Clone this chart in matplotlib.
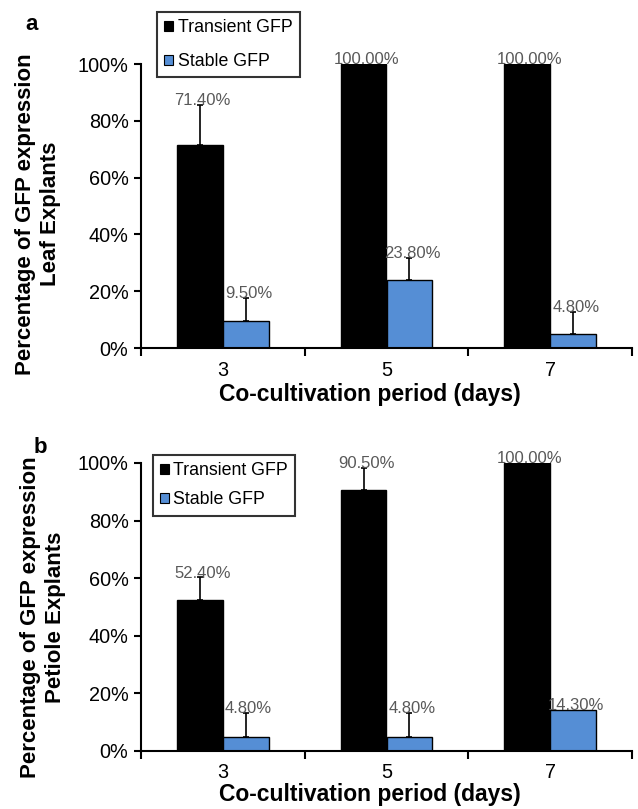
import matplotlib
matplotlib.use("Agg")
import matplotlib.pyplot as plt
from matplotlib.patches import Patch
import numpy as np

plt.rcParams['font.family'] = ['Liberation Sans', 'DejaVu Sans']

categories = ["3", "5", "7"]
series_names = ["Transient GFP", "Stable GFP"]

leaf_transient = [71.4, 100.0, 100.0]
leaf_transient_err = [14.2, 0.0, 0.0]
leaf_stable = [9.5, 23.8, 4.8]
leaf_stable_err = [8.1, 7.9, 7.9]

petiole_transient = [52.4, 90.5, 100.0]
petiole_transient_err = [8.0, 7.8, 0.0]
petiole_stable = [4.8, 4.8, 14.3]
petiole_stable_err = [8.4, 8.4, 0.0]

yticks = [0, 20, 40, 60, 80, 100]
ytick_labels = ["0%", "20%", "40%", "60%", "80%", "100%"]

xlabel = "Co-cultivation period (days)"
ylabel_a = "Percentage of GFP expression\nLeaf Explants"
ylabel_b = "Percentage of GFP expression\nPetiole Explants"

colors = ["#000000", "#558ED5"]
label_color = "#595959"

W, H = 638, 809
fig = plt.figure(figsize=(W / 100, H / 100), dpi=100)


def fx(px):
    return px / W


def fy(py):
    return 1 - py / H


def panel(rect, trans, trans_err, stab, stab_err, ylabel, letter, letter_xy,
          leg_anchor, leg_spacing, ylabel_xy, xlabel_y):
    ax = fig.add_axes(rect)
    x = np.arange(len(categories))
    w = 0.28
    for vals, errs, off, col in [(trans, trans_err, -w / 2, colors[0]),
                                 (stab, stab_err, w / 2, colors[1])]:
        ax.bar(x + off, vals, width=w, color=col, edgecolor="black", linewidth=1.0, zorder=2)
        ev = np.array(errs)
        mask = ev > 0
        ax.errorbar((x + off)[mask], np.array(vals)[mask],
                    yerr=[np.zeros(mask.sum()), ev[mask]], fmt="none",
                    ecolor="black", elinewidth=1.2, capsize=2.5, capthick=1.2, zorder=3)
        for xi, v, e in zip(x + off, vals, errs):
            ax.annotate(f"{v:.2f}%", (xi, v + e), xytext=(2, -2.5), textcoords="offset points",
                        ha="center", va="bottom", fontsize=12, color=label_color, zorder=4)
    ax.set_xlim(-0.5, 2.5)
    ax.set_ylim(0, 100)
    ax.set_yticks(yticks)
    ax.set_yticklabels(ytick_labels, fontsize=14.3)
    ax.set_xticks(x)
    ax.set_xticklabels(categories, fontsize=14.3)
    ax.set_xticks(np.arange(-0.5, 3.0, 1.0), minor=True)
    ax.tick_params(axis="x", which="major", length=0, pad=9)
    ax.tick_params(axis="x", which="minor", length=6, width=1.5, direction="out")
    ax.tick_params(axis="y", length=5, width=1.5, direction="out", pad=4)
    for s in ["top", "right"]:
        ax.spines[s].set_visible(False)
    for s in ["left", "bottom"]:
        ax.spines[s].set_linewidth(1.5)
    handles = [Patch(facecolor=colors[0], edgecolor="black", linewidth=0.8),
               Patch(facecolor=colors[1], edgecolor="black", linewidth=0.8)]
    leg = ax.legend(handles, series_names, loc="upper left", bbox_to_anchor=leg_anchor,
                    fontsize=12.8, frameon=True, fancybox=False, edgecolor="black",
                    handlelength=0.5, handleheight=0.5, handletextpad=0.25,
                    labelspacing=leg_spacing, borderpad=0.4, borderaxespad=0)
    leg.get_frame().set_linewidth(1.5)
    fig.text(fx(letter_xy[0]), fy(letter_xy[1]), letter, fontsize=16, fontweight="bold",
             ha="center", va="center")
    fig.text(fx(ylabel_xy[0]), fy(ylabel_xy[1]), ylabel, rotation=90, fontsize=16,
             fontweight="bold", ha="center", va="center", multialignment="center",
             linespacing=1.3)
    fig.text(fx(370), fy(xlabel_y), xlabel, fontsize=16.5, fontweight="bold",
             ha="center", va="center")
    return ax


ax_a = panel([fx(141), fy(348), fx(632) - fx(141), fy(64) - fy(348)],
             leaf_transient, leaf_transient_err, leaf_stable, leaf_stable_err,
             ylabel_a, "a", (32, 25), (0.033, 1.183), 0.95, (38, 214), 394)
ax_b = panel([fx(141), fy(751), fx(632) - fx(141), fy(463) - fy(751)],
             petiole_transient, petiole_transient_err, petiole_stable, petiole_stable_err,
             ylabel_b, "b", (40, 447), (0.024, 1.028), 0.7, (43, 617), 795)

fig.savefig("out.png", dpi=100)
